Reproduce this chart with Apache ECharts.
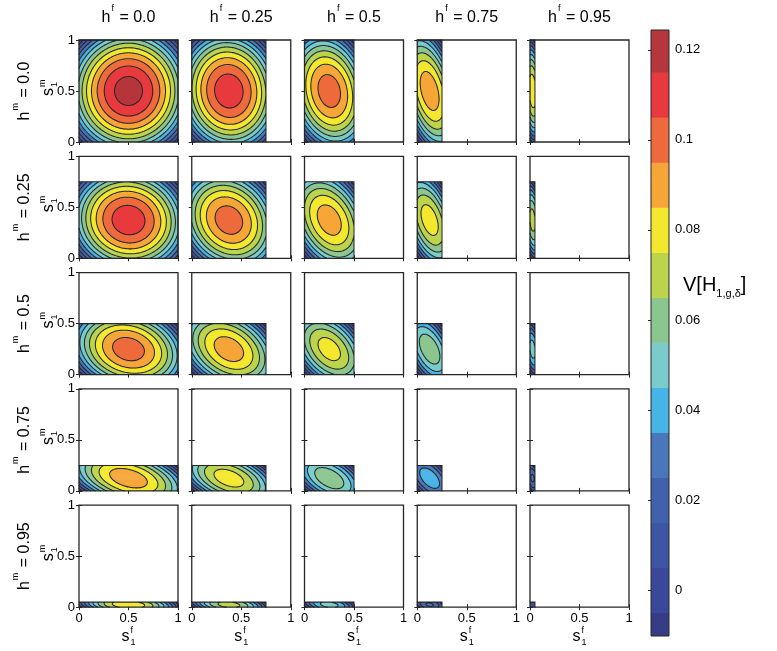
<!DOCTYPE html>
<html>
<head>
<meta charset="utf-8">
<script src="https://cdn.jsdelivr.net/npm/echarts@6/dist/echarts.min.js"></script>
<style>
  html, body { margin: 0; background: #fff; }
  #chart { width: 777px; height: 651px; }
</style>
</head>
<body>
<div id="chart"></div>
<script>
// dominance values of the grid: columns h^f, rows h^m
const hfValues = [0, 0.25, 0.5, 0.75, 0.95];
const hmValues = [0, 0.25, 0.5, 0.75, 0.95];
const hLabels = ["0.0", "0.25", "0.5", "0.75", "0.95"];

// peak of V[H] in each panel (rows h^m, cols h^f)
const peakValues = [
  [0.125, 0.117, 0.106, 0.097, 0.088],
  [0.117, 0.106, 0.096, 0.086, 0.075],
  [0.106, 0.096, 0.085, 0.068, 0.055],
  [0.097, 0.086, 0.068, 0.047, 0.032],
  [0.088, 0.075, 0.055, 0.032, 0.008],
];
// how far the ellipses lean (upper-left to lower-right), estimated per panel
const tiltValues = [
  [0.0, 0.05, 0.15, 0.25, 0.08],
  [0.05, 0.15, 0.25, 0.28, 0.12],
  [0.15, 0.25, 0.3, 0.32, 0.15],
  [0.25, 0.28, 0.32, 0.35, 0.15],
  [0.08, 0.12, 0.15, 0.15, 0.08],
];

const contourLevels = [0.01, 0.02, 0.03, 0.04, 0.05, 0.06, 0.07, 0.08, 0.09, 0.1, 0.11, 0.12];
const colorbarLevels = [-0.01, 0, 0.01, 0.02, 0.03, 0.04, 0.05, 0.06, 0.07, 0.08, 0.09, 0.1, 0.11, 0.12];
const colorbarTicks = [0, 0.02, 0.04, 0.06, 0.08, 0.1, 0.12];

const bandColors = [
  "#363d86", "#3a489b", "#3e54a5", "#4261ac", "#4977ba", "#46b4e6", "#79cbcc",
  "#8bc68f", "#bcd44c", "#f3e82e", "#f6a637", "#ee6a3c", "#e83a3e", "#b5363c",
];

const FONT = '"Liberation Sans", Arial, Helvetica, sans-serif';
const LINE = "#262626";

const colLeft = (c) => 79 + c * 112.75;
const rowTop = (r) => 40 + r * 116.3;
const PANEL_W = 99;
const PANEL_H = 102;

const fieldAt = (r, c, x, y) => {
  const W = 1 - hfValues[c];
  const H = 1 - hmValues[r];
  const du = (2 * x) / W - 1;
  const dv = (2 * y) / H - 1;
  const t = tiltValues[r][c];
  const a = ((1 - t) * W) / (W + H);
  const b = ((1 - t) * H) / (W + H);
  return peakValues[r][c] * (1 - a * du * du - b * dv * dv - t * du * dv);
};

const bandIndex = (v) =>
  Math.max(0, Math.min(bandColors.length - 1, Math.floor(v / 0.01 + 1e-9) + 1));

function drawPanel(r, c, api) {
  const W = 1 - hfValues[c];
  const H = 1 - hmValues[r];
  const p0 = api.coord([0, 0]);
  const p1 = api.coord([W, H]);
  const nx = Math.max(1, Math.round(p1[0] - p0[0]));
  const ny = Math.max(1, Math.round(p0[1] - p1[1]));
  const sx = (p1[0] - p0[0]) / nx;
  const sy = (p0[1] - p1[1]) / ny;
  const children = [];

  // filled bands, one rect per run of equal colour in each pixel row
  for (let j = 0; j < ny; j++) {
    const y = ((j + 0.5) / ny) * H;
    let start = 0;
    let band = bandIndex(fieldAt(r, c, (0.5 / nx) * W, y));
    for (let i = 1; i <= nx; i++) {
      const b = i < nx ? bandIndex(fieldAt(r, c, ((i + 0.5) / nx) * W, y)) : -1;
      if (b !== band) {
        children.push({
          type: "rect",
          shape: {
            x: p0[0] + start * sx,
            y: p0[1] - (j + 1) * sy,
            width: (i - start) * sx + (i < nx ? 0.6 : 0),
            height: sy + (j > 0 ? 0.6 : 0),
          },
          style: { fill: bandColors[band] },
        });
        start = i;
        band = b;
      }
    }
  }

  // contour lines by marching squares
  const vals = [];
  for (let j = 0; j <= ny; j++) {
    const row = [];
    for (let i = 0; i <= nx; i++) row.push(fieldAt(r, c, (i / nx) * W, (j / ny) * H));
    vals.push(row);
  }
  const px = (i) => p0[0] + i * sx;
  const py = (j) => p0[1] - j * sy;
  let d = "";
  contourLevels.forEach((L) => {
    if (L > peakValues[r][c]) return;
    for (let j = 0; j < ny; j++) {
      for (let i = 0; i < nx; i++) {
        const a = vals[j][i], b = vals[j][i + 1], e = vals[j + 1][i + 1], f = vals[j + 1][i];
        const pts = [];
        if ((a >= L) !== (b >= L)) pts.push([px(i + (L - a) / (b - a)), py(j)]);
        if ((b >= L) !== (e >= L)) pts.push([px(i + 1), py(j + (L - b) / (e - b))]);
        if ((f >= L) !== (e >= L)) pts.push([px(i + (L - f) / (e - f)), py(j + 1)]);
        if ((a >= L) !== (f >= L)) pts.push([px(i), py(j + (L - a) / (f - a))]);
        for (let k = 0; k + 1 < pts.length; k += 2) {
          d += "M" + pts[k][0].toFixed(2) + " " + pts[k][1].toFixed(2) +
               "L" + pts[k + 1][0].toFixed(2) + " " + pts[k + 1][1].toFixed(2);
        }
      }
    }
  });
  // outline of the filled region
  d += "M" + p0[0].toFixed(2) + " " + p1[1].toFixed(2) + "L" + p1[0].toFixed(2) + " " +
       p1[1].toFixed(2) + "L" + p1[0].toFixed(2) + " " + p0[1].toFixed(2);
  children.push({
    type: "path",
    shape: { pathData: d },
    style: { fill: null, stroke: LINE, lineWidth: 1.05, lineCap: "round" },
  });
  return { type: "group", children };
}

const grids = [];
const xAxes = [];
const yAxes = [];
const series = [];

for (let r = 0; r < 5; r++) {
  for (let c = 0; c < 5; c++) {
    const g = grids.length;
    grids.push({
      left: colLeft(c), top: rowTop(r), width: PANEL_W, height: PANEL_H,
      show: true, backgroundColor: "transparent", borderColor: LINE, borderWidth: 1.3, z: 5,
    });
    const base = {
      gridIndex: g, type: "value", min: 0, max: 1, interval: 0.5,
      axisLine: { show: false }, splitLine: { show: false },
      axisTick: { inside: true, length: 3, lineStyle: { color: LINE } },
    };
    xAxes.push({
      ...base, position: "bottom",
      axisLabel: { show: r === 4, fontSize: 13, color: "#000", fontFamily: FONT, margin: 5 },
    });
    xAxes.push({ ...base, position: "top", axisLabel: { show: false } });
    yAxes.push({
      ...base, position: "left",
      axisLabel: { show: c === 0, fontSize: 13, color: "#000", fontFamily: FONT, margin: 4 },
    });
    yAxes.push({ ...base, position: "right", axisLabel: { show: false } });
    series.push({
      type: "custom", coordinateSystem: "cartesian2d",
      xAxisIndex: 2 * g, yAxisIndex: 2 * g,
      data: [[hfValues[c], hmValues[r]]],
      clip: false, silent: true, animation: false, z: 2,
      renderItem: (params, api) => drawPanel(r, c, api),
    });
  }
}

// colour bar
const cb = grids.length;
grids.push({
  left: 651, top: 30, width: 18, height: 606,
  show: true, backgroundColor: "transparent", borderColor: LINE, borderWidth: 1, z: 5,
});
xAxes.push({ gridIndex: cb, type: "value", min: 0, max: 1, show: false });
yAxes.push({
  gridIndex: cb, type: "value", position: "right", min: -0.0102, max: 0.1244,
  axisLine: { show: false }, splitLine: { show: false },
  axisTick: { customValues: colorbarTicks, inside: true, length: 3, lineStyle: { color: LINE } },
  axisLabel: {
    customValues: colorbarTicks, fontSize: 13, color: "#000", fontFamily: FONT, margin: 6,
    formatter: (v) => String(+v.toFixed(2)),
  },
});
series.push({
  type: "custom", coordinateSystem: "cartesian2d",
  xAxisIndex: xAxes.length - 1, yAxisIndex: yAxes.length - 1,
  data: colorbarLevels.map((v, i) => [i, v]),
  clip: true, silent: true, animation: false,
  renderItem: (params, api) => {
    const v = api.value(1);
    const a = api.coord([0, v + 0.005]);
    const b = api.coord([1, v - 0.005]);
    return {
      type: "rect",
      shape: { x: a[0], y: a[1], width: b[0] - a[0], height: b[1] - a[1] + 0.5 },
      style: { fill: bandColors[api.value(0)] },
    };
  },
});

// text: titles, row labels, axis names
const richBase = {
  a: { fontSize: 16, fontFamily: FONT, fill: "#000", color: "#000", verticalAlign: "bottom", lineHeight: 22 },
  s: { fontSize: 9, fontFamily: FONT, fill: "#000", color: "#000", verticalAlign: "top", lineHeight: 10, padding: [0, 1, 0, 1] },
};
const graphics = [];
hLabels.forEach((lab, c) => {
  graphics.push({
    type: "text", x: colLeft(c) + PANEL_W / 2, y: 15,
    style: { text: "{a|h}{s|f}{a| = " + lab + "}", rich: richBase, align: "center", verticalAlign: "middle" },
  });
});
hLabels.forEach((lab, r) => {
  graphics.push({
    type: "text", x: 22, y: rowTop(r) + PANEL_H / 2, rotation: Math.PI / 2,
    style: { text: "{a|h}{s|m}{a| = " + lab + "}", rich: richBase, align: "center", verticalAlign: "middle" },
  });
});
const sLabel = (x, y, sup, rot) => ({
  type: "group", x, y, rotation: rot,
  children: [
    { type: "text", x: 1, y: 0, style: { text: "s", font: "16px " + FONT, fill: "#000", align: "right", verticalAlign: "middle" } },
    { type: "text", x: 2, y: -6, style: { text: sup, font: "9px " + FONT, fill: "#000", align: "left", verticalAlign: "middle" } },
    { type: "text", x: 2, y: 6, style: { text: "1", font: "9px " + FONT, fill: "#000", align: "left", verticalAlign: "middle" } },
  ],
});
for (let r = 0; r < 5; r++) graphics.push(sLabel(49, rowTop(r) + PANEL_H / 2 - 2, "m", Math.PI / 2));
for (let c = 0; c < 5; c++) graphics.push(sLabel(colLeft(c) + PANEL_W / 2, 637, "f", 0));
graphics.push({
  type: "text", x: 683, y: 287,
  style: {
    text: "{a|V[H}{b|1,g,δ}{a|]}",
    rich: {
      a: { fontSize: 20, fontFamily: FONT, fill: "#000", verticalAlign: "top", lineHeight: 24 },
      b: { fontSize: 11, fontFamily: FONT, fill: "#000", verticalAlign: "bottom", lineHeight: 12 },
    },
    align: "left", verticalAlign: "middle",
  },
});

const chart = echarts.init(document.getElementById("chart"), null, { renderer: "canvas" });
chart.setOption({
  animation: false,
  backgroundColor: "#fff",
  grid: grids,
  xAxis: xAxes,
  yAxis: yAxes,
  series,
  graphic: graphics,
});
</script>
</body>
</html>
